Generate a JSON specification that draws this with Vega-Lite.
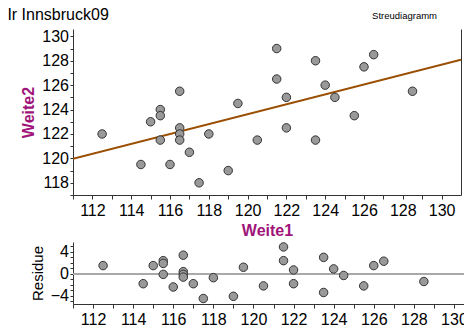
{
  "$schema": "https://vega.github.io/schema/vega-lite/v6.json",
  "padding": {"left": 7, "top": 6, "right": 0, "bottom": 0},
  "background": "white",
  "title": {"text": "Ir Innsbruck09", "anchor": "start", "frame": "bounds", "dx": -13.4, "offset": -12, "fontSize": 16, "fontWeight": "normal", "font": "Liberation Sans", "color": "#000"},
  "config": {
    "font": "Liberation Sans",
    "view": {"stroke": null},
    "axis": {"grid": false, "domainColor": "#333", "tickColor": "#333", "labelColor": "#000", "labelFont": "Liberation Sans", "labelFontSize": 16, "titleFont": "Liberation Sans", "labelFlush": false, "labelOverlap": false}
  },
  "datasets": {
    "pts": [
      {"Weite1": 112.5, "Weite2": 122.0, "Residue": 1.5},
      {"Weite1": 114.5, "Weite2": 119.5, "Residue": -1.8},
      {"Weite1": 115.0, "Weite2": 123.0, "Residue": 1.5},
      {"Weite1": 115.5, "Weite2": 124.0, "Residue": 2.4},
      {"Weite1": 115.5, "Weite2": 123.5, "Residue": 1.9},
      {"Weite1": 115.5, "Weite2": 121.5, "Residue": -0.1},
      {"Weite1": 116.0, "Weite2": 119.5, "Residue": -2.4},
      {"Weite1": 116.5, "Weite2": 125.5, "Residue": 3.4},
      {"Weite1": 116.5, "Weite2": 122.5, "Residue": 0.4},
      {"Weite1": 116.5, "Weite2": 122.0, "Residue": -0.1},
      {"Weite1": 116.5, "Weite2": 121.5, "Residue": -0.6},
      {"Weite1": 117.0, "Weite2": 120.5, "Residue": -1.8},
      {"Weite1": 117.5, "Weite2": 118.0, "Residue": -4.5},
      {"Weite1": 118.0, "Weite2": 122.0, "Residue": -0.7},
      {"Weite1": 119.0, "Weite2": 119.0, "Residue": -4.1},
      {"Weite1": 119.5, "Weite2": 124.5, "Residue": 1.2},
      {"Weite1": 120.5, "Weite2": 121.5, "Residue": -2.2},
      {"Weite1": 121.5, "Weite2": 129.0, "Residue": 4.9},
      {"Weite1": 121.5, "Weite2": 126.5, "Residue": 2.4},
      {"Weite1": 122.0, "Weite2": 125.0, "Residue": 0.7},
      {"Weite1": 122.0, "Weite2": 122.5, "Residue": -1.8},
      {"Weite1": 123.5, "Weite2": 128.0, "Residue": 3.0},
      {"Weite1": 123.5, "Weite2": 121.5, "Residue": -3.4},
      {"Weite1": 124.0, "Weite2": 126.0, "Residue": 0.9},
      {"Weite1": 124.5, "Weite2": 125.0, "Residue": -0.3},
      {"Weite1": 125.5, "Weite2": 123.5, "Residue": -2.2},
      {"Weite1": 126.0, "Weite2": 127.5, "Residue": 1.5},
      {"Weite1": 126.5, "Weite2": 128.5, "Residue": 2.3},
      {"Weite1": 128.5, "Weite2": 125.5, "Residue": -1.4}
    ],
    "fit": [
      {"Weite1": 111, "Weite2": 119.96},
      {"Weite1": 131, "Weite2": 128.09}
    ]
  },
  "concat": [
    {
      "width": 388,
      "height": 166,
      "title": {"text": "Streudiagramm", "anchor": "end", "frame": "group", "dx": -24, "offset": 8, "fontSize": 9.5, "fontWeight": "normal", "color": "#000"},
      "resolve": {"axis": {"y": "independent"}},
      "layer": [
        {
          "data": {"name": "fit"},
          "mark": {"type": "line", "color": "#9a4e00", "strokeWidth": 2, "clip": true},
          "encoding": {
            "x": {"field": "Weite1", "type": "quantitative", "scale": {"domain": [111, 131], "nice": false, "zero": false},
              "axis": {"values": [111,112,113,114,115,116,117,118,119,120,121,122,123,124,125,126,127,128,129,130], "labelExpr": "indexof(['112','114','116','118','120','122','124','126','128','130'], datum.label) >= 0 ? datum.label : ''", "tickSize": 4, "labelPadding": 3, "title": "Weite1", "titleColor": "#a0147a", "titleFontSize": 16, "titleFontWeight": "bold", "titlePadding": 4}},
            "y": {"field": "Weite2", "type": "quantitative", "scale": {"domain": [117, 130.6], "nice": false, "zero": false},
              "axis": {"values": [117,118,119,120,121,122,123,124,125,126,127,128,129,130], "labelExpr": "datum.value % 2 == 0 ? datum.label : ''", "tickSize": 3, "labelPadding": 1.5, "title": "Weite2", "titleColor": "#a0147a", "titleFontSize": 16, "titleFontWeight": "bold", "titlePadding": 5}}
          }
        },
        {
          "data": {"name": "pts"},
          "mark": {"type": "circle", "size": 72, "color": "#999999", "opacity": 1, "stroke": "#333333", "strokeWidth": 1},
          "encoding": {
            "x": {"field": "Weite1", "type": "quantitative",
              "axis": {"values": [111,112,113,114,115,116,117,118,119,120,121,122,123,124,125,126,127,128,129,130], "labelExpr": "indexof(['112','114','116','118','120','122','124','126','128','130'], datum.label) >= 0 ? datum.label : ''", "tickSize": 4, "labelPadding": 3, "title": "Weite1", "titleColor": "#a0147a", "titleFontSize": 16, "titleFontWeight": "bold", "titlePadding": 4}},
            "y": {"field": "Weite2", "type": "quantitative", "axis": {"orient": "right", "labels": false, "ticks": false, "title": null}}
          }
        }
      ]
    },
    {
      "width": 401,
      "height": 62,
      "resolve": {"axis": {"y": "independent"}},
      "layer": [
        {
          "mark": {"type": "rule", "color": "#aaaaaa", "strokeWidth": 1},
          "encoding": {
            "y": {"datum": 0, "type": "quantitative", "scale": {"domain": [-5.5, 5.8], "nice": false, "zero": false},
              "axis": {"values": [-5,-4,-3,-2,-1,0,1,2,3,4,5], "labelExpr": "datum.value % 4 == 0 ? datum.label : ''", "tickSize": 3, "labelPadding": 1.5, "title": "Residue", "titleColor": "#000", "titleFontSize": 15, "titleFontWeight": "normal", "titlePadding": 5}}
          }
        },
        {
          "data": {"name": "pts"},
          "mark": {"type": "circle", "size": 72, "color": "#999999", "opacity": 1, "stroke": "#333333", "strokeWidth": 1},
          "encoding": {
            "x": {"field": "Weite1", "type": "quantitative", "scale": {"domain": [111, 131], "nice": false, "zero": false},
              "axis": {"values": [111,112,113,114,115,116,117,118,119,120,121,122,123,124,125,126,127,128,129,130], "labelExpr": "indexof(['112','114','116','118','120','122','124','126','128','130'], datum.label) >= 0 ? datum.label : ''", "tickSize": 4, "labelPadding": 3, "title": null}},
            "y": {"field": "Residue", "type": "quantitative", "axis": {"orient": "right", "labels": false, "ticks": false, "title": null}}
          }
        }
      ]
    }
  ],
  "columns": 1,
  "align": "none",
  "spacing": 0,
  "data": {"name": "pts"}
}
